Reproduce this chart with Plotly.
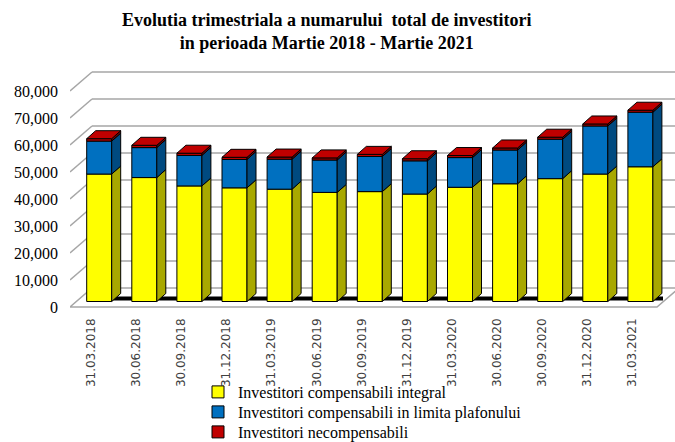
import plotly.graph_objects as go

# ---------------- data ----------------
categories = ["31.03.2018", "30.06.2018", "30.09.2018", "31.12.2018", "31.03.2019",
              "30.06.2019", "30.09.2019", "31.12.2019", "31.03.2020", "30.06.2020",
              "30.09.2020", "31.12.2020", "31.03.2021"]
integral = [47200, 45900, 42800, 42100, 41600, 40400, 40700, 39800, 42300, 43600, 45500, 47200, 49900]
plafon = [12200, 11100, 11300, 10500, 11100, 12000, 13000, 12300, 11000, 12500, 14600, 17800, 20200]
necomp = [900, 850, 820, 800, 800, 780, 790, 770, 760, 760, 750, 750, 740]
y_ticks = [0, 10000, 20000, 30000, 40000, 50000, 60000, 70000, 80000]
series_names = ["Investitori compensabili integral",
                "Investitori compensabili in limita plafonului",
                "Investitori necompensabili"]

# ---------------- layout geometry (pixels) ----------------
W, H = 675, 442
PL, PR, PT, PB = 70, 675, 68, 315
Y0 = 307.0      # pixel of value 0
K = 0.0027      # px per value unit
UX = 45.1       # px per category
X1 = 99.2       # pixel of first category

ymin = -(PB - Y0) / K
ymax = (Y0 - PT) / K
xmin = (PL - X1) / UX
xmax = (PR - X1) / UX


def dxu(px):
    return px / UX


def dyu(px):
    return px / K


def py_paper(px):
    return (PB - px) / (PB - PT)


def px_paper(px):
    return (px - PL) / (PR - PL)


FDX, FDY = dxu(22), dyu(19)        # floor / wall depth
BW, BDX, BDY = dxu(25), dxu(9), dyu(8)  # bar width and depth
BASE = dyu(5.5)
floor_right = xmin + dxu(587)
LABEL_OFF = dxu(-8)

front_cols = ["#FFFF00", "#0070C0", "#C00000"]
side_cols = ["#A8A800", "#004A80", "#7A0000"]
top_col = "#C00000"
legend_ids = ["legend", "legend2", "legend3"]
legend_rows = [392, 412, 432]

fig = go.Figure()

n = len(categories)
xs_idx = list(range(n))
b_yellow = [BASE for _ in range(n)]
b_blue = [BASE + integral[i] for i in range(n)]
b_red = [BASE + integral[i] + plafon[i] for i in range(n)]
bases = [b_yellow, b_blue, b_red]
vals = [integral, plafon, necomp]

# front faces
for s in range(3):
    fig.add_trace(go.Bar(
        x=xs_idx, y=vals[s], base=bases[s], width=BW,
        name=series_names[s], legend=legend_ids[s],
        marker=dict(color=front_cols[s], line=dict(color="black", width=1)),
        hoverinfo="skip",
    ))

# side faces
for s in range(3):
    sx, sy = [], []
    for i in range(n):
        b0 = bases[s][i]
        b1 = b0 + vals[s][i]
        xr = i + BW / 2
        sx += [xr, xr + BDX, xr + BDX, xr, xr, None]
        sy += [b0, b0 + BDY, b1 + BDY, b1, b0, None]
    fig.add_trace(go.Scatter(
        x=sx, y=sy, mode="lines", fill="toself", fillcolor=side_cols[s],
        line=dict(color="black", width=1), showlegend=False, hoverinfo="skip",
    ))

# top caps
tx, ty = [], []
for i in range(n):
    t = b_red[i] + necomp[i]
    xl, xr = i - BW / 2, i + BW / 2
    tx += [xl, xr, xr + BDX, xl + BDX, xl, None]
    ty += [t, t, t + BDY, t + BDY, t, None]
fig.add_trace(go.Scatter(
    x=tx, y=ty, mode="lines", fill="toself", fillcolor=top_col,
    line=dict(color="black", width=1), showlegend=False, hoverinfo="skip",
))

# ---------------- walls / floor ----------------
shapes = []
grid_col = "#A6A6A6"
for v in y_ticks[1:]:
    shapes.append(dict(type="line", xref="x", yref="y", layer="below",
                       x0=xmin, y0=v, x1=xmin + FDX, y1=v + FDY,
                       line=dict(color=grid_col, width=1.5)))
    shapes.append(dict(type="line", xref="x", yref="y", layer="below",
                       x0=xmin + FDX, y0=v + FDY, x1=xmax + 1, y1=v + FDY,
                       line=dict(color=grid_col, width=1.5)))
# floor
path = (f"M {xmin},{0} L {floor_right},{0} L {floor_right + FDX},{FDY} "
        f"L {xmin + FDX},{FDY} Z")
shapes.append(dict(type="path", xref="x", yref="y", layer="below", path=path,
                   fillcolor="white", line=dict(color=grid_col, width=1.5)))
shapes.append(dict(type="line", xref="x", yref="y", layer="below",
                   x0=-BW / 2, y0=BASE + dyu(3), x1=floor_right + dxu(6), y1=BASE + dyu(3),
                   line=dict(color="black", width=4)))

legend_common = dict(
    xanchor="left", yanchor="middle", orientation="v",
    font=dict(family="Liberation Serif", size=16, color="black"),
    bgcolor="rgba(0,0,0,0)", itemwidth=30, borderwidth=0,
)
legends = {}
for k, lid in enumerate(legend_ids):
    legends[lid] = dict(legend_common, x=px_paper(198), y=py_paper(legend_rows[k]))

fig.update_layout(
    width=W, height=H,
    margin=dict(l=PL, r=W - PR, t=PT, b=H - PB, pad=0, autoexpand=False),
    paper_bgcolor="white", plot_bgcolor="white",
    barmode="overlay",
    shapes=shapes,
    annotations=[dict(
        text="<b>Evolutia trimestriala a numarului  total de investitori<br>in perioada Martie 2018 - Martie 2021</b>",
        xref="paper", yref="paper", x=px_paper(326), y=py_paper(32),
        xanchor="center", yanchor="middle", showarrow=False, align="center",
        font=dict(family="Liberation Serif", size=18, color="black"),
    )],
    xaxis=dict(
        range=[xmin, xmax], showgrid=False, zeroline=False, showline=False, automargin=False,
        tickmode="array", tickvals=[i + LABEL_OFF for i in xs_idx], ticktext=categories,
        tickangle=-90, ticks="", tickfont=dict(family="DejaVu Sans", size=12, color="#404040"),
    ),
    yaxis=dict(
        range=[ymin, ymax], showgrid=False, zeroline=False, showline=False, automargin=False,
        tickmode="array", tickvals=y_ticks, tickformat=",", ticks="",
        ticklabelstandoff=11,
        tickfont=dict(family="Liberation Serif", size=16, color="black"),
    ),
    showlegend=True,
    **legends,
)

fig.write_html("out.html", config={"displayModeBar": False},
               post_script="document.body.style.margin='0px';")
